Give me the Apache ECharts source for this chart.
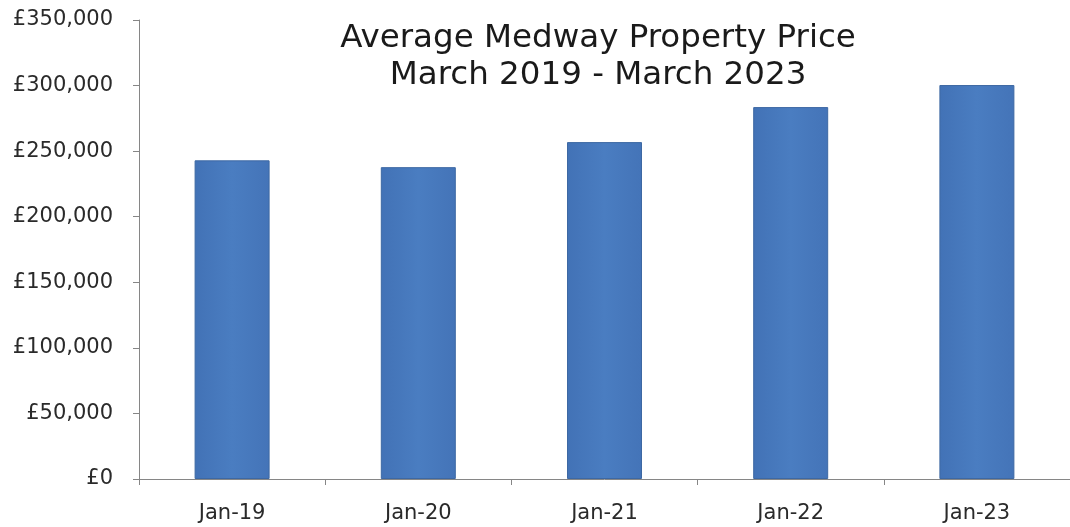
<!DOCTYPE html>
<html>
<head>
<meta charset="utf-8">
<script src="https://cdn.jsdelivr.net/npm/echarts@6/dist/echarts.min.js"></script>
<style>
  html, body { margin: 0; padding: 0; background: #ffffff; }
  #chart { width: 1070px; height: 527px; }
</style>
</head>
<body>
<div id="chart"></div>
<script>
// Average property price in Medway, one bar per year
const categories = ['Jan-19', 'Jan-20', 'Jan-21', 'Jan-22', 'Jan-23'];
const prices = [243000, 237800, 256900, 283600, 300400];
const titleLines = ['Average Medway Property Price', 'March 2019 - March 2023'];

const chart = echarts.init(document.getElementById('chart'), null, { renderer: 'canvas' });

const fmtPounds = v => '£' + v.toLocaleString('en-GB');

// slight side-to-side shading on the bars
const barFill = new echarts.graphic.LinearGradient(0, 0, 1, 0, [
  { offset: 0, color: '#4272b6' },
  { offset: 0.5, color: '#4a7dc1' },
  { offset: 1, color: '#4474b8' }
]);

chart.setOption({
  animation: false,
  backgroundColor: '#ffffff',
  title: {
    text: titleLines.join('\n'),
    left: 593,
    top: 15,
    textAlign: 'center',
    textStyle: {
      fontFamily: 'DejaVu Sans',
      fontSize: 32.5,
      fontWeight: 'normal',
      color: '#1a1a1a',
      lineHeight: 37
    }
  },
  grid: { left: 139, right: -3, top: 20, bottom: 48, containLabel: false },
  xAxis: {
    type: 'category',
    data: categories,
    axisLine: { lineStyle: { color: '#868686', width: 1 } },
    axisTick: { show: true, length: 6, alignWithLabel: false, lineStyle: { color: '#868686' } },
    axisLabel: {
      margin: 24,
      fontFamily: 'DejaVu Sans',
      fontSize: 21,
      color: '#2a2a2a'
    },
    splitLine: { show: false }
  },
  yAxis: {
    type: 'value',
    min: 0,
    max: 350000,
    interval: 50000,
    axisLine: { show: true, lineStyle: { color: '#868686', width: 1 } },
    axisTick: { show: true, length: 6, lineStyle: { color: '#868686' } },
    axisLabel: {
      margin: 26,
      fontFamily: 'DejaVu Sans',
      fontSize: 21,
      color: '#2a2a2a',
      formatter: fmtPounds
    },
    splitLine: { show: false }
  },
  series: [{
    type: 'bar',
    data: prices,
    barWidth: 75,
    itemStyle: {
      color: barFill,
      borderColor: '#3d68a3',
      borderWidth: 1
    }
  }]
});
</script>
</body>
</html>
